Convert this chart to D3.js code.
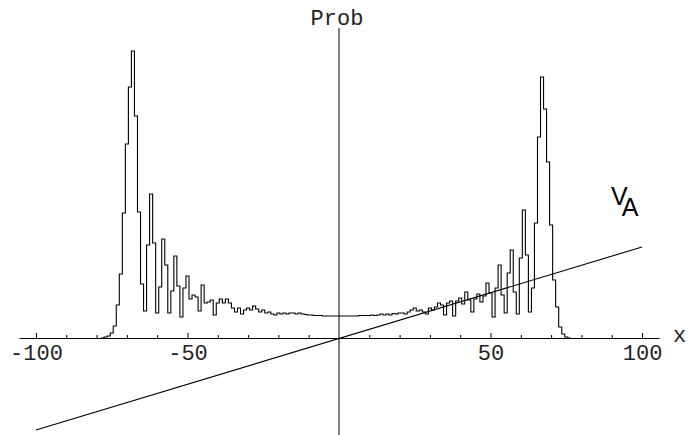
<!DOCTYPE html>
<html>
<head>
<meta charset="utf-8">
<script src="https://cdn.jsdelivr.net/npm/d3@7"></script>
<style>
  body { margin: 0; background: #fff; }
</style>
</head>
<body>
<div id="chart"></div>
<script>
// bins of width 1, first bin starts at x = -77.5
const firstEdge = -77.5;
const binWidth = 1;
const prob = [
  .0001, .0002, .0005, .0012, .0033, .0064, .0125, .0194, .0251, .0287, // -77..-68
  .0222, .0126, .0054, .0027, .0093, .0144, .0095, .0025, .0051, .0099, // -67..-58
  .0073, .0025, .0047, .0082, .0052, .0021, .0050, .0062, .0039, .0043, // -57..-48
  .0041, .0027, .0053, .0035, .0036, .0038, .0023, .0035, .0039, .0035, // -47..-38
  .0039, .0035, .0030, .0026, .0030, .0024, .0028, .0030, .0028, .0032, // -37..-28
  .0029, .0026, .0028, .0025, .0026, .0024, .0023, .0025, .0024, .0025, // -27..-18
  .0024, .0025, .0025, .0024, .0025, .0024, .00235, .0023, .0023, .00225, // -17..-8
  .00225, .00225, .0022, .0022, .0022, .0022, .0022, .0022, .0022, .0022, // -7..2
  .0022, .0022, .0022, .0022, .00225, .00225, .00225, .00225, .0023, .00225, // 3..12
  .0023, .0024, .0023, .0024, .0023, .00245, .0024, .0025, .0025, .0024, // 13..22
  .0026, .0028, .0030, .0027, .0028, .0026, .0024, .0030, .0028, .0031, // 23..32
  .0035, .0033, .0023, .0035, .0037, .0022, .0037, .0040, .0034, .0046, // 33..42
  .0038, .0026, .0039, .0044, .0036, .0042, .0055, .0045, .0021, .0050, // 43..52
  .0073, .0043, .0025, .0065, .0088, .0046, .0024, .0080, .0128, .0083, // 53..62
  .0026, .0050, .0115, .0201, .0261, .0229, .0176, .0113, .0058, .0031, // 63..72
  .0011, .0004, .0001, 0                                                 // 73..76
];

// straight line V_A
const vaX = [-100, 100];
const vaY = [-0.0092, 0.0091];

const majorTicks = [-100, -50, 50, 100];
const minorTicks = [-90, -80, -70, -60, -40, -30, -20, -10, 10, 20, 30, 40, 60, 70, 80, 90];

const W = 689, H = 435;
const svg = d3.select("#chart").append("svg")
  .attr("width", W)
  .attr("height", H);

// scales
const x = d3.scaleLinear().domain([-105.6, 105.6]).range([19, 659]);
const y = d3.scaleLinear().domain([-0.0097, 0.031]).range([435, 28]);

const mono = "'Liberation Mono', 'Courier New', monospace";

// x axis: major ticks with labels, ticks point up
const axisMajor = svg.append("g")
  .attr("transform", `translate(0, ${y(0)})`)
  .call(d3.axisBottom(x).tickValues(majorTicks).tickSize(-5).tickSizeOuter(0)
    .tickPadding(6).tickFormat(d => String(d)));
axisMajor.select(".domain").attr("stroke", "#000");
axisMajor.selectAll("text")
  .style("font-family", mono)
  .style("font-size", "22px")
  .attr("fill", "#222");

// minor ticks
const axisMinor = svg.append("g")
  .attr("transform", `translate(0, ${y(0)})`)
  .call(d3.axisBottom(x).tickValues(minorTicks).tickSize(-3).tickFormat(""));
axisMinor.select(".domain").remove();

// vertical axis
svg.append("line")
  .attr("x1", x(0)).attr("x2", x(0))
  .attr("y1", y.range()[1]).attr("y2", y.range()[0])
  .attr("stroke", "#000");

// axis labels
svg.append("text")
  .attr("x", x(0) - 2)
  .attr("y", 25)
  .attr("text-anchor", "middle")
  .attr("fill", "#222")
  .style("font-family", mono)
  .style("font-size", "22px")
  .text("Prob");

svg.append("text")
  .attr("x", 673)
  .attr("y", 342)
  .attr("fill", "#222")
  .style("font-family", mono)
  .style("font-size", "22px")
  .text("x");

// histogram as a step line
const pts = [[firstEdge - binWidth, 0]];
prob.forEach((p, i) => pts.push([firstEdge + i * binWidth, p]));
pts.push([firstEdge + prob.length * binWidth, 0]);

const step = d3.line()
  .x(d => x(d[0]))
  .y(d => y(d[1]))
  .curve(d3.curveStepAfter);

svg.append("path")
  .datum(pts)
  .attr("fill", "none")
  .attr("stroke", "#000")
  .attr("stroke-width", 1.1)
  .attr("d", step);

// V_A line
svg.append("path")
  .datum(vaX.map((v, i) => [v, vaY[i]]))
  .attr("fill", "none")
  .attr("stroke", "#000")
  .attr("stroke-width", 1.1)
  .attr("d", d3.line().x(d => x(d[0])).y(d => y(d[1])));

// V_A label (subscript in a tspan)
const label = svg.append("text")
  .attr("x", 611)
  .attr("y", 205)
  .style("font-family", "'Liberation Sans', Arial, Helvetica, sans-serif")
  .style("font-size", "25px")
  .text("V");
label.append("tspan")
  .attr("dx", -4)
  .attr("dy", 11)
  .text("A");
</script>
</body>
</html>
